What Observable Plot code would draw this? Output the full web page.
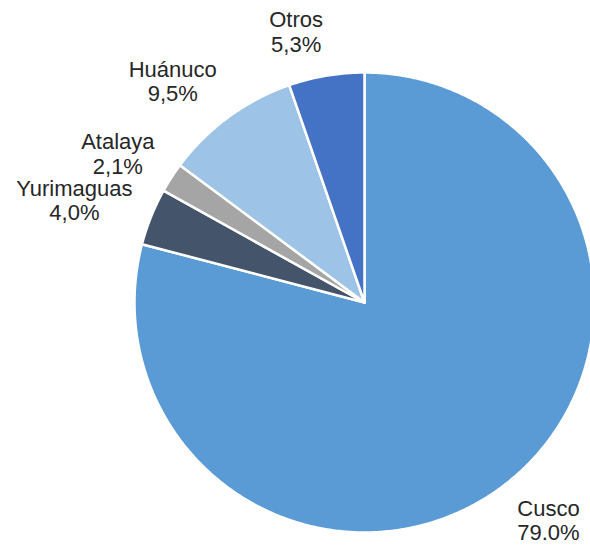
<!DOCTYPE html>
<html>
<head>
<meta charset="utf-8">
<script src="https://cdn.jsdelivr.net/npm/d3@7"></script>
<script src="https://cdn.jsdelivr.net/npm/@observablehq/plot@0.6"></script>
<style>
  html, body { margin: 0; padding: 0; background: #fff; }
  #chart { width: 590px; height: 546px; overflow: hidden; }
</style>
</head>
<body>
<div id="chart"></div>
<script>
const categories = ["Cusco", "Yurimaguas", "Atalaya", "Huánuco", "Otros"];
const values = [79.0, 4.0, 2.1, 9.5, 5.3];
const valueLabels = ["79.0%", "4,0%", "2,1%", "9,5%", "5,3%"];
const colors = ["#5B9BD5", "#44546A", "#A5A5A5", "#9DC3E6", "#4472C4"];

const W = 590, H = 546;
const cx = 364, cy = 302, R = 230;
const fontSize = 22;
const lineH = 1.12;

const pie = d3.pie().sort(null).value(d => d.value).startAngle(0).endAngle(2 * Math.PI);
const arcs = pie(categories.map((name, i) => ({name, value: values[i], label: valueLabels[i]})));

// slice outlines (in unit-circle coordinates)
const pts = [];
arcs.forEach(a => {
  const name = a.data.name;
  pts.push({name, x: 0, y: 0});
  const n = Math.max(2, Math.ceil((a.endAngle - a.startAngle) / (Math.PI / 360)));
  for (let k = 0; k <= n; k++) {
    const t = a.startAngle + (a.endAngle - a.startAngle) * k / n;
    pts.push({name, x: Math.sin(t), y: Math.cos(t)});
  }
  pts.push({name, x: 0, y: 0});
});

// label positions: outside end, box corner near the rim
const ctx = document.createElement("canvas").getContext("2d");
ctx.font = `${fontSize}px "Liberation Sans", Arial, sans-serif`;
const pad = 20;
const labels = arcs.map(a => {
  const m = (a.startAngle + a.endAngle) / 2;
  const dx = Math.sin(m), dy = Math.cos(m);
  const text = a.data.name + "\n" + a.data.label;
  const w = Math.max(ctx.measureText(a.data.name).width, ctx.measureText(a.data.label).width);
  const h = fontSize * lineH * 2;
  const px = dx * (R + pad) + Math.sign(dx) * w / 2;
  const py = dy * (R + pad) + dy * h / 2;
  return {text, x: px / R, y: py / R};
});

const plot = Plot.plot({
  width: W,
  height: H,
  margin: 0,
  x: {domain: [-1, 1], range: [cx - R, cx + R], axis: null},
  y: {domain: [-1, 1], range: [cy + R, cy - R], axis: null},
  color: {domain: categories, range: colors},
  style: {fontFamily: '"Liberation Sans", Arial, sans-serif', background: "#fff"},
  marks: [
    Plot.line(pts, {x: "x", y: "y", z: "name", fill: "name", stroke: "white", strokeWidth: 2.5, strokeLinejoin: "round", curve: "linear"}),
    Plot.text(labels, {x: "x", y: "y", text: "text", fontSize, lineHeight: lineH, fill: "#262626", textAnchor: "middle", lineAnchor: "middle", clip: false})
  ]
});
document.getElementById("chart").appendChild(plot);
</script>
</body>
</html>
